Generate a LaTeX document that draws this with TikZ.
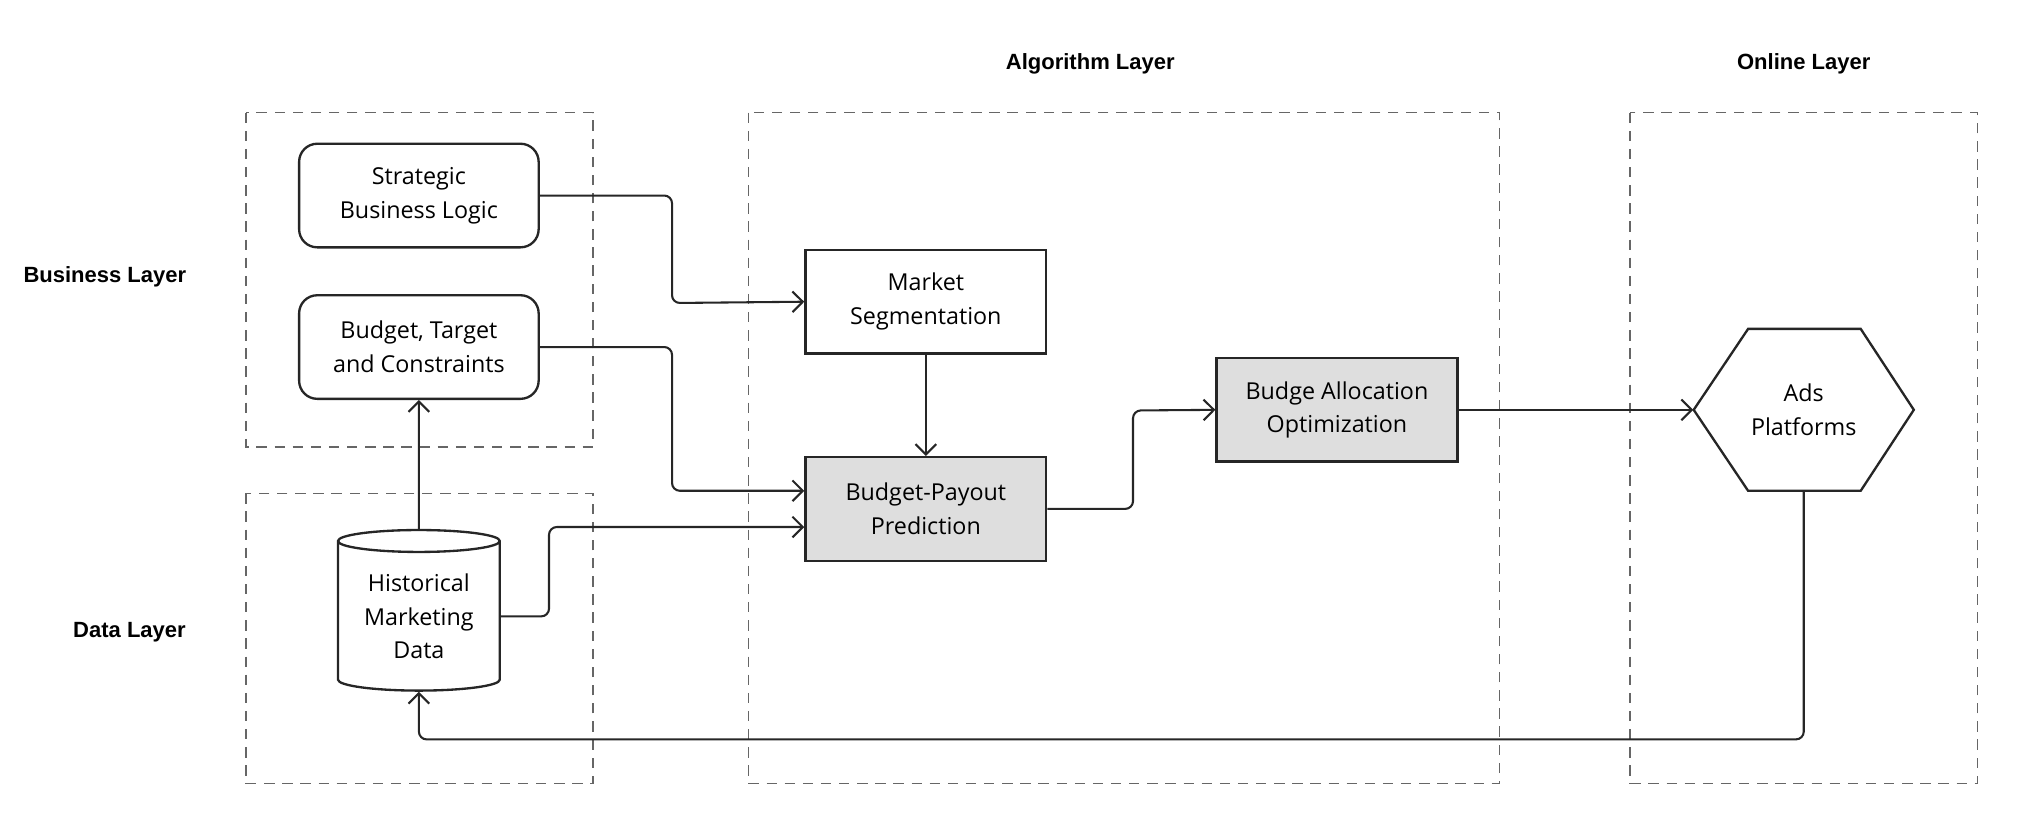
\documentclass[tikz,border=0pt]{standalone}
\usepackage{fontspec}
\setmainfont{Open Sans}
\newfontfamily\lblfont{Liberation Sans}
\usetikzlibrary{shapes.geometric,arrows.meta}
\begin{document}
\begin{tikzpicture}[x=0.5pt,y=-0.5pt,
  every node/.style={font=\fontsize{9}{13}\selectfont, align=center, inner sep=0pt},
  layer/.style={draw=black!60, dashed, dash pattern=on 4pt off 3pt, line width=0.6pt},
  lbl/.style={font=\lblfont\bfseries\fontsize{8.5}{10}\selectfont},
  rbox/.style={draw=black!85, line width=0.9pt, rounded corners=7pt, minimum width=92.5pt, minimum height=40pt},
  sbox/.style={draw=black!85, line width=0.9pt, minimum width=93pt, minimum height=40pt},
  gbox/.style={sbox, fill=black!13},
  conn/.style={draw=black!85, line width=0.8pt, rounded corners=3pt, -{Straight Barb[length=4pt,width=8pt]}}]
\useasboundingbox (0,0) rectangle (1560,645);
% layers
\draw[layer] (190,87) rectangle (458,345);
\draw[layer] (190,381) rectangle (458,605);
\draw[layer] (578,87) rectangle (1158,605);
\draw[layer] (1259,87) rectangle (1527,605);
\node[lbl] (lb) at (81,214) {Business Layer};
\node[lbl] (ld) at (100,488) {Data Layer};
\node[lbl] (la) at (842,49) {Algorithm Layer};
\node[lbl] (lo) at (1393,49) {Online Layer};
% nodes
\node[rbox] (sbl) at (323.5,151) {Strategic\\Business Logic};
\node[rbox] (btc) at (323.5,268) {Budget, Target\\and Constraints};
\node[cylinder, shape border rotate=90, aspect=0.2, draw=black!85, line width=0.9pt, minimum width=62.5pt, minimum height=62pt] (hmd) at (323.5,476) {Historical\\Marketing\\Data};
\node[sbox] (ms) at (715,233) {Market\\Segmentation};
\node[gbox] (bpp) at (715,393) {Budget-Payout\\Prediction};
\node[gbox] (bao) at (1032.5,316.5) {Budge Allocation\\Optimization};
\node[minimum width=85pt, minimum height=62.5pt] (ads) at (1393,316.5) {Ads\\Platforms};
\draw[draw=black!85, line width=0.9pt] (1350,254) -- (1437,254) -- (1478,316.5) -- (1437,379) -- (1350,379) -- (1308,316.5) -- cycle;
% connectors
\draw[conn] (sbl.east) -| (519,234) -- (ms.west);
\draw[conn] (btc.east) -| (519,379) -- (bpp.west |- 0,379);
\draw[conn] (hmd.east) -| (424,407) -- (bpp.west |- 0,407);
\draw[conn] (ms.south) -- (bpp.north);
\draw[conn] (bpp.east) -| (875,317) -- (bao.west);
\draw[conn] (bao.east) -- (ads.west);
\draw[conn] (ads.south) -- (1393,571) -| (hmd.south);
\draw[conn] (hmd.north) -- (btc.south);
\end{tikzpicture}
\end{document}
